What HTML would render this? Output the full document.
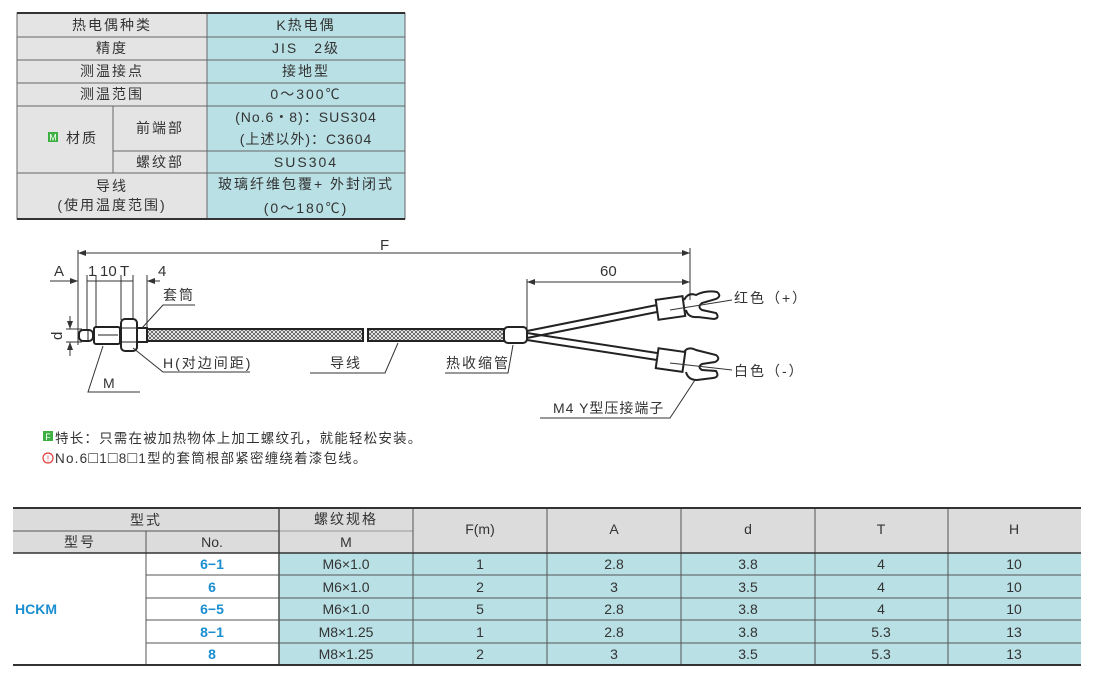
<!DOCTYPE html>
<html><head><meta charset="utf-8"><style>
html,body{margin:0;padding:0;background:#fff;width:1100px;height:674px;overflow:hidden}
svg{display:block}
text{font-family:"Liberation Sans","Noto Sans CJK SC",sans-serif;fill:#333}
.ls{letter-spacing:2px}
</style></head><body>
<svg width="1100" height="674" viewBox="0 0 1100 674" xmlns="http://www.w3.org/2000/svg">
<defs>
<pattern id="br" width="4" height="4" patternUnits="userSpaceOnUse">
<rect width="4" height="4" fill="#fff"/><path d="M0 0L4 4M4 0L0 4" stroke="#555" stroke-width="0.8"/>
</pattern>
<marker id="ar" markerWidth="8" markerHeight="6" refX="8" refY="3" orient="auto-start-reverse" markerUnits="userSpaceOnUse"><path d="M0 0L8 3L0 6z" fill="#333"/></marker>
</defs>

<!-- TOP TABLE -->
<g stroke="#666" stroke-width="1">
<rect x="17" y="13" width="190" height="206" fill="#e4e4e4"/>
<rect x="207" y="13" width="198" height="206" fill="#b9e0e5"/>
<line x1="17" y1="37" x2="405" y2="37"/><line x1="17" y1="60" x2="405" y2="60"/>
<line x1="17" y1="83" x2="405" y2="83"/><line x1="17" y1="106" x2="405" y2="106"/>
<line x1="113" y1="151" x2="405" y2="151"/><line x1="17" y1="173" x2="405" y2="173"/>
<line x1="113" y1="106" x2="113" y2="173"/>
</g>
<line x1="17" y1="13" x2="405" y2="13" stroke="#333" stroke-width="2"/>
<line x1="17" y1="219" x2="405" y2="219" stroke="#333" stroke-width="2"/>
<g font-size="14" text-anchor="middle" class="ls">
<text x="112" y="30">热电偶种类</text><text x="306" y="30">K热电偶</text>
<text x="112" y="53">精度</text><text x="306" y="53">JIS　2级</text>
<text x="112" y="76">测温接点</text><text x="306" y="76">接地型</text>
<text x="112" y="99">测温范围</text><text x="306" y="99">0～300℃</text>
<text x="82" y="143">材质</text>
<text x="160" y="133">前端部</text><text x="306" y="122" style="letter-spacing:1px">(No.6・8)：SUS304</text><text x="306" y="144" style="letter-spacing:1px">(上述以外)：C3604</text>
<text x="160" y="167">螺纹部</text><text x="306" y="167">SUS304</text>
<text x="112" y="191">导线</text><text x="112" y="210">(使用温度范围)</text>
<text x="306" y="189">玻璃纤维包覆+ 外封闭式</text><text x="306" y="213">(0～180℃)</text>
</g>
<rect x="48" y="132" width="10" height="10" fill="#3cb043"/>
<text x="53" y="140.5" font-size="9" text-anchor="middle" style="fill:#fff">M</text>

<!-- DIAGRAM -->
<g stroke="#333" stroke-width="1" fill="none">
<line x1="78" y1="253" x2="690" y2="253" marker-start="url(#ar)" marker-end="url(#ar)"/>
<line x1="78" y1="250" x2="78" y2="345"/><line x1="690" y1="248" x2="690" y2="300"/>
<line x1="50" y1="281" x2="78" y2="281" marker-end="url(#ar)"/>
<line x1="87" y1="281" x2="133" y2="281"/>
<line x1="160" y1="281" x2="147" y2="281" marker-end="url(#ar)"/>
<line x1="87" y1="275" x2="87" y2="330"/><line x1="96" y1="275" x2="96" y2="328"/>
<line x1="121" y1="275" x2="121" y2="320"/><line x1="133" y1="275" x2="133" y2="320"/>
<line x1="147" y1="275" x2="147" y2="328"/>
<line x1="527" y1="282" x2="690" y2="282" marker-start="url(#ar)" marker-end="url(#ar)"/>
<line x1="527" y1="279" x2="527" y2="330"/>
<line x1="70" y1="316" x2="70" y2="329" marker-end="url(#ar)"/>
<line x1="70" y1="356" x2="70" y2="342" marker-end="url(#ar)"/>
<line x1="66" y1="329" x2="82" y2="329"/><line x1="66" y1="342" x2="82" y2="342"/>
</g>
<g font-size="15">
<text x="380" y="250">F</text><text x="54" y="276">A</text><text x="88" y="276">1</text>
<text x="100" y="276">10</text><text x="120" y="276">T</text><text x="158" y="276">4</text>
<text x="600" y="276">60</text>
<text x="57" y="335" transform="rotate(-90 62 335)">d</text>
</g>
<!-- probe -->
<g stroke="#222" stroke-width="2">
<rect x="79" y="330" width="14" height="11" rx="4" fill="#fff"/>
<rect x="94" y="327" width="26" height="17" rx="2" fill="#fff"/>
<rect x="121" y="319" width="16" height="32" rx="4" fill="#fff"/>
<rect x="137" y="328" width="10" height="14" fill="#fff"/>
<rect x="147" y="329" width="216" height="12" fill="url(#br)"/>
<rect x="368" y="329" width="137" height="12" fill="url(#br)"/>
<rect x="504" y="327" width="23" height="16" rx="4" fill="#fff"/>
</g>
<g stroke="#222" stroke-width="1"><line x1="121" y1="328" x2="137" y2="328"/><line x1="121" y1="342" x2="137" y2="342"/><line x1="88" y1="330" x2="88" y2="341"/><line x1="98" y1="335" x2="118" y2="335"/></g>
<!-- wires -->
<g stroke="#222" stroke-width="2" fill="none">
<path d="M527 331L657 305M527 338L657 312"/>
<path d="M527 333L657 353M527 340L657 360"/>
<rect x="657" y="298" width="27" height="20" fill="#fff" transform="rotate(-8 670 308)"/>
<rect x="657" y="350" width="27" height="20" fill="#fff" transform="rotate(8 670 360)"/>
<path d="M684 300Q688 292 696 295Q706 290 717 292Q722 296 716 299L702 303Q697 307 702 310L716 313Q720 318 714 319L698 317Q688 318 686 310"/>
<path d="M684 352Q688 346 696 350L716 355Q721 359 715 362L702 364Q697 367 702 370L716 371Q720 377 713 378L697 380Q688 380 686 372"/>
</g>
<!-- leaders -->
<g stroke="#333" stroke-width="1" fill="none">
<path d="M195 305H163L142 328"/>
<path d="M250 372H163L133 348"/>
<path d="M140 392H88L103 346"/>
<path d="M310 373H385L398 343"/>
<path d="M445 373H508L513 345"/>
<path d="M540 418H670L695 380"/>
<line x1="670" y1="310" x2="732" y2="300"/><line x1="670" y1="363" x2="732" y2="370"/>
</g>
<g font-size="14" class="ls">
<text x="163" y="300">套筒</text><text x="163" y="368">H(对边间距)</text>
<text x="103" y="388">M</text><text x="330" y="368">导线</text><text x="446" y="368">热收缩管</text>
<text x="734" y="303">红色（+）</text><text x="734" y="376">白色（-）</text>
<text x="553" y="413" style="letter-spacing:1px">M4 Y型压接端子</text>
</g>
<g font-size="13.5">
<rect x="43" y="431" width="10" height="10" fill="#3cb043"/>
<text x="48" y="440" font-size="9" text-anchor="middle" style="fill:#fff">F</text>
<text x="55" y="443" style="letter-spacing:1.2px">特长：只需在被加热物体上加工螺纹孔，就能轻松安装。</text>
<circle cx="48" cy="458" r="5" fill="none" stroke="#e0403a" stroke-width="1.2"/>
<text x="48" y="461.5" font-size="8" text-anchor="middle" style="fill:#e0403a">!</text>
<text x="55" y="463" style="letter-spacing:1.2px">No.6<tspan font-size="16">□</tspan>1<tspan font-size="16">□</tspan>8<tspan font-size="16">□</tspan>1型的套筒根部紧密缠绕着漆包线。</text>
</g>

<!-- BOTTOM TABLE -->
<rect x="13" y="508" width="1068" height="45" fill="#dcdcdc"/>
<rect x="279" y="553" width="802" height="112" fill="#b9e0e5"/>
<g stroke="#555" stroke-width="1">
<line x1="13" y1="531" x2="279" y2="531"/><line x1="279" y1="531" x2="413" y2="531" stroke="#999"/>
<line x1="146" y1="575" x2="1081" y2="575"/><line x1="146" y1="598" x2="1081" y2="598"/>
<line x1="146" y1="620" x2="1081" y2="620"/><line x1="146" y1="643" x2="1081" y2="643"/>
<line x1="146" y1="531" x2="146" y2="665"/><line x1="279" y1="508" x2="279" y2="665" stroke-width="1.6"/>
<line x1="413" y1="508" x2="413" y2="665"/><line x1="547" y1="508" x2="547" y2="665"/>
<line x1="681" y1="508" x2="681" y2="665"/><line x1="815" y1="508" x2="815" y2="665"/>
<line x1="948" y1="508" x2="948" y2="665"/>
</g>
<line x1="13" y1="508" x2="1081" y2="508" stroke="#333" stroke-width="2"/>
<line x1="13" y1="553" x2="1081" y2="553" stroke="#333" stroke-width="1.6"/>
<line x1="13" y1="665" x2="1081" y2="665" stroke="#333" stroke-width="2"/>
<g font-size="14" text-anchor="middle">
<text x="146" y="525" class="ls">型式</text><text x="80" y="547" class="ls">型号</text><text x="212" y="547">No.</text>
<text x="346" y="524" class="ls">螺纹规格</text><text x="346" y="547">M</text>
<text x="480" y="534">F(m)</text><text x="614" y="534">A</text><text x="748" y="534">d</text>
<text x="881" y="534">T</text><text x="1014" y="534">H</text>
</g>
<g font-size="14" text-anchor="middle" font-weight="bold">
<text x="212" y="569" style="fill:#1a8ed0">6−1</text><text x="212" y="592" style="fill:#1a8ed0">6</text>
<text x="212" y="614" style="fill:#1a8ed0">6−5</text><text x="212" y="637" style="fill:#1a8ed0">8−1</text>
<text x="212" y="659" style="fill:#1a8ed0">8</text>
</g>
<text x="15" y="614" font-size="14" font-weight="bold" style="fill:#1a8ed0">HCKM</text>
<g font-size="14" text-anchor="middle" style="fill:#444">
<text x="346" y="569">M6×1.0</text><text x="480" y="569">1</text><text x="614" y="569">2.8</text><text x="748" y="569">3.8</text><text x="881" y="569">4</text><text x="1014" y="569">10</text>
<text x="346" y="592">M6×1.0</text><text x="480" y="592">2</text><text x="614" y="592">3</text><text x="748" y="592">3.5</text><text x="881" y="592">4</text><text x="1014" y="592">10</text>
<text x="346" y="614">M6×1.0</text><text x="480" y="614">5</text><text x="614" y="614">2.8</text><text x="748" y="614">3.8</text><text x="881" y="614">4</text><text x="1014" y="614">10</text>
<text x="346" y="637">M8×1.25</text><text x="480" y="637">1</text><text x="614" y="637">2.8</text><text x="748" y="637">3.8</text><text x="881" y="637">5.3</text><text x="1014" y="637">13</text>
<text x="346" y="659">M8×1.25</text><text x="480" y="659">2</text><text x="614" y="659">3</text><text x="748" y="659">3.5</text><text x="881" y="659">5.3</text><text x="1014" y="659">13</text>
</g>
</svg>
</body></html>
